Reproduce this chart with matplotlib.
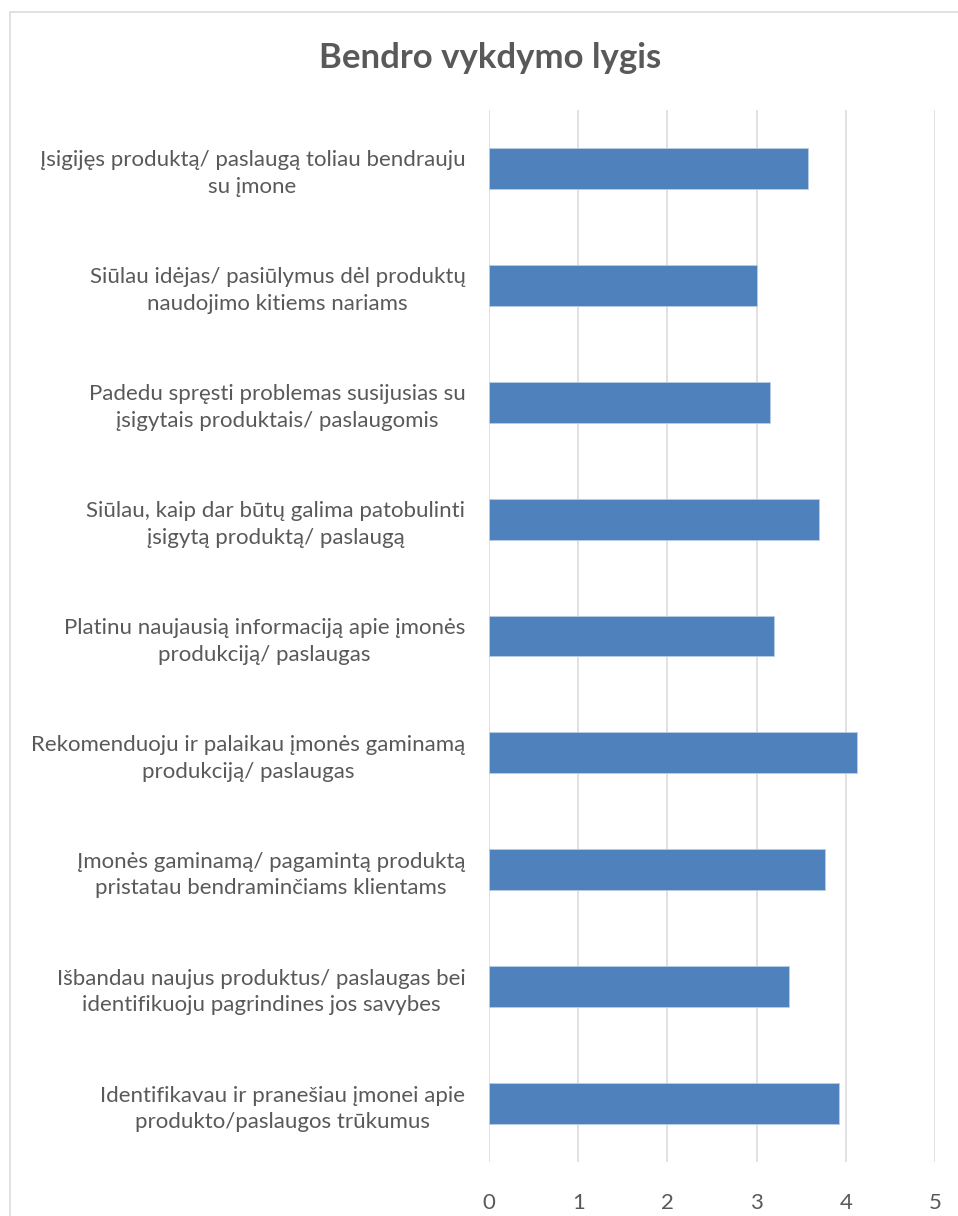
import matplotlib
matplotlib.use("Agg")
import matplotlib.pyplot as plt
from matplotlib.patches import Rectangle

categories = [
    "Įsigijęs produktą/ paslaugą toliau bendrauju\nsu įmone",
    "Siūlau idėjas/ pasiūlymus dėl produktų\nnaudojimo kitiems nariams",
    "Padedu spręsti problemas susijusias su\nįsigytais produktais/ paslaugomis",
    "Siūlau, kaip dar būtų galima patobulinti\nįsigytą produktą/ paslaugą",
    "Platinu naujausią informaciją apie įmonės\nprodukciją/ paslaugas",
    "Rekomenduoju ir palaikau įmonės gaminamą\nprodukciją/ paslaugas",
    "Įmonės gaminamą/ pagamintą produktą\npristatau bendraminčiams klientams",
    "Išbandau naujus produktus/ paslaugas bei\nidentifikuoju pagrindines jos savybes",
    "Identifikavau ir pranešiau įmonei apie\nprodukto/paslaugos trūkumus",
]
values = [3.58, 3.01, 3.15, 3.70, 3.19, 4.13, 3.77, 3.36, 3.92]
xticks = [0, 1, 2, 3, 4, 5]
title = "Bendro vykdymo lygis"

plt.rcParams['font.family'] = ['Lato', 'DejaVu Sans']
text_color = "#595959"

fig = plt.figure(figsize=(9.58, 12.16), dpi=100)
fig.patch.set_facecolor("white")

# chart border
fig.patches.append(Rectangle((10/958, -0.5), 1.5, 0.5 + 1 - 12/1216,
                             transform=fig.transFigure, fill=False,
                             edgecolor="#d9d9d9", linewidth=1.1))

ax = fig.add_axes([489/958, 54/1216, 446/958, 1052/1216])
pos = list(range(len(categories)))
ax.barh(pos, values, height=0.35, color="#4f81bd", edgecolor="#b9cde5", linewidth=0.6, zorder=3)
ax.set_ylim(len(categories) - 0.5, -0.5)
ax.set_xlim(0, 5)
ax.set_xticks(xticks)
ax.set_xticklabels([str(t) for t in xticks])
ax.set_yticks(pos)
ax.set_yticklabels(categories, multialignment="center", linespacing=1.42)
ax.tick_params(axis="x", length=0, pad=22, labelsize=16, labelcolor=text_color)
ax.tick_params(axis="y", length=0, pad=17, labelsize=16, labelcolor=text_color)
ax.xaxis.grid(True, color="#d9d9d9", linewidth=1.1, zorder=0)
ax.set_axisbelow(True)
for s in ax.spines.values():
    s.set_visible(False)

fig.text(490/958, 1 - 58/1216, title, ha="center", va="center",
         fontsize=25, fontweight="bold", color=text_color)

fig.savefig("out.png", dpi=100)
